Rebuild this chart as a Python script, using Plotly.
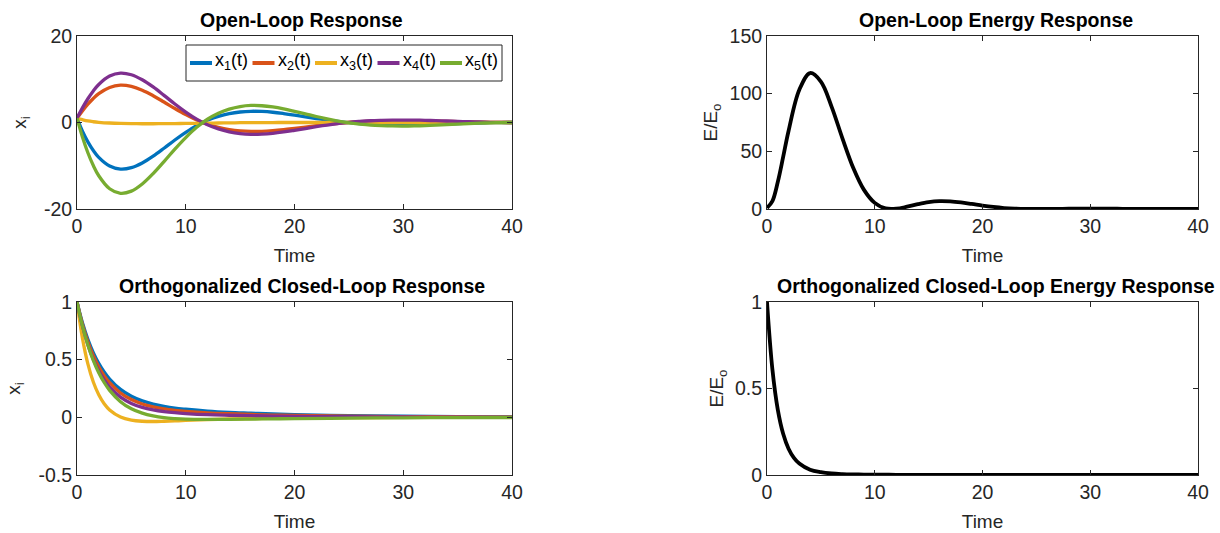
import plotly.graph_objects as go

# ---------------- data ----------------
t_ol = [0, 0.5, 1, 1.5, 2, 3, 4, 5, 6, 7, 8, 9, 10, 11, 12, 13, 14, 15, 16, 17, 18, 19, 20,
        21, 22, 23, 24, 25, 26, 27, 28, 29, 30, 31, 32, 33, 34, 35, 36, 37, 38, 39, 40]

ol_x1 = [1, -2.01, -4.48, -6.48, -8.06, -10.07, -10.78, -10.45, -9.36, -7.79, -5.95, -4.05, -2.29,
         -0.73, 0.50, 1.40, 2.04, 2.43, 2.59, 2.55, 2.37, 2.07, 1.71,
         1.32, 0.92, 0.55, 0.23, -0.04, -0.24, -0.39, -0.48, -0.53, -0.54,
         -0.52, -0.48, -0.41, -0.33, -0.26, -0.17, -0.11, -0.04, -0.01, 0]
ol_x2 = [1, 2.69, 4.23, 5.56, 6.67, 8.11, 8.62, 8.33, 7.46, 6.20, 4.74, 3.23, 1.82,
         0.58, -0.40, -1.12, -1.63, -1.94, -2.06, -2.03, -1.88, -1.65, -1.36,
         -1.05, -0.73, -0.44, -0.18, 0.03, 0.19, 0.31, 0.38, 0.42, 0.43,
         0.41, 0.38, 0.33, 0.27, 0.21, 0.14, 0.09, 0.03, 0.01, 0]
ol_x3 = [1, 0.65, 0.35, 0.17, 0.05, -0.12, -0.22, -0.27, -0.29, -0.29, -0.27, -0.25, -0.22,
         -0.18, -0.14, -0.11, -0.08, -0.05, -0.03, -0.02, -0.01, 0, 0,
         0, 0, 0, 0, 0, 0, 0, 0, 0, 0,
         0, 0, 0, 0, 0, 0, 0, 0, 0, 0]
ol_x4 = [1, 3.37, 5.49, 7.30, 8.79, 10.73, 11.42, 11.04, 9.88, 8.22, 6.28, 4.28, 2.42,
         0.78, -0.52, -1.48, -2.15, -2.57, -2.74, -2.69, -2.50, -2.19, -1.80,
         -1.39, -0.97, -0.58, -0.24, 0.05, 0.25, 0.41, 0.50, 0.56, 0.57,
         0.55, 0.50, 0.43, 0.35, 0.27, 0.18, 0.11, 0.05, 0.01, 0]
ol_x5 = [1, -3.36, -6.99, -9.96, -12.31, -15.32, -16.38, -15.87, -14.22, -11.82, -9.04, -6.15, -3.48,
         -1.12, 0.75, 2.13, 3.10, 3.69, 3.94, 3.87, 3.59, 3.15, 2.59,
         2.00, 1.39, 0.84, 0.34, -0.07, -0.36, -0.59, -0.72, -0.80, -0.82,
         -0.79, -0.72, -0.62, -0.51, -0.39, -0.26, -0.16, -0.07, -0.02, 0]
ol_energy = [1, 6.87, 23.4, 45.1, 67.65, 103.4, 117.9, 110.5, 88.6, 61.3, 35.8, 16.6, 5.31,
             0.55, 0.25, 1.99, 4.21, 5.98, 6.80, 6.57, 5.66, 4.34, 2.94,
             1.75, 0.85, 0.31, 0.05, 0.01, 0.06, 0.15, 0.23, 0.28, 0.29,
             0.27, 0.23, 0.17, 0.11, 0.07, 0.03, 0.01, 0, 0, 0]

t_cl = [0, 0.5, 1, 1.5, 2, 2.5, 3, 4, 5, 6, 7, 8, 9, 10, 12, 14, 16, 18, 20, 25, 30, 35, 40]
cl_x1 = [1, 0.82, 0.677, 0.561, 0.468, 0.393, 0.332, 0.242, 0.183, 0.143, 0.115, 0.095,
         0.080, 0.070, 0.054, 0.043, 0.036, 0.029, 0.024, 0.015, 0.010, 0.006, 0.004]
cl_x2 = [1, 0.807, 0.655, 0.534, 0.438, 0.361, 0.300, 0.211, 0.154, 0.116, 0.091, 0.073,
         0.061, 0.052, 0.039, 0.031, 0.025, 0.020, 0.016, 0.010, 0.006, 0.004, 0.002]
cl_x3 = [1, 0.687, 0.463, 0.306, 0.196, 0.118, 0.064, 0.003, -0.024, -0.034, -0.036, -0.034,
         -0.031, -0.027, -0.020, -0.0146, -0.0104, -0.0075, -0.0054, -0.0023, -0.001, -0.0004, -0.0002]
cl_x4 = [1, 0.793, 0.630, 0.502, 0.403, 0.325, 0.262, 0.175, 0.121, 0.087, 0.065, 0.050,
         0.040, 0.033, 0.023, 0.018, 0.014, 0.011, 0.009, 0.005, 0.003, 0.002, 0.001]
cl_x5 = [1, 0.793, 0.627, 0.494, 0.387, 0.302, 0.234, 0.136, 0.074, 0.036, 0.012, -0.003,
         -0.011, -0.016, -0.018, -0.017, -0.015, -0.013, -0.011, -0.007, -0.004, -0.002, -0.0015]
cl_energy = [1, 0.611, 0.378, 0.238, 0.152, 0.099, 0.066, 0.030, 0.016, 0.0088, 0.0054, 0.0036,
             0.0026, 0.0019, 0.0011, 0.0007, 0.0005, 0.0003, 0.0002, 0.0001, 0, 0, 0]

names = ["x<sub>1</sub>(t)", "x<sub>2</sub>(t)", "x<sub>3</sub>(t)", "x<sub>4</sub>(t)", "x<sub>5</sub>(t)"]
colors = ["#0072BD", "#D95319", "#EDB120", "#7E2F8E", "#77AC30"]

titles = ["Open-Loop Response", "Open-Loop Energy Response",
          "Orthogonalized Closed-Loop Response", "Orthogonalized Closed-Loop Energy Response"]
x_ticks = [0, 10, 20, 30, 40]
x_ticktext = ["0", "10", "20", "30", "40"]
y_ticks_ol = [-20, 0, 20]
y_ticktext_ol = ["-20", "0", "20"]
y_ticks_ole = [0, 50, 100, 150]
y_ticktext_ole = ["0", "50", "100", "150"]
y_ticks_cl = [-0.5, 0, 0.5, 1]
y_ticktext_cl = ["-0.5", "0", "0.5", "1"]
y_ticks_cle = [0, 0.5, 1]
y_ticktext_cle = ["0", "0.5", "1"]

# ---------------- figure ----------------
W, H = 1220, 533
FONT = "Liberation Sans, Arial, Helvetica, sans-serif"
AX = "#262626"

def px2x(p):
    return p / W

def px2y(p):
    return 1 - p / H

xdom_l = [px2x(77), px2x(512)]
xdom_r = [px2x(767), px2x(1198)]
ydom_t = [px2y(209), px2y(36)]
ydom_b = [px2y(475), px2y(302)]

fig = go.Figure()

series_ol = [ol_x1, ol_x2, ol_x3, ol_x4, ol_x5]
series_cl = [cl_x1, cl_x2, cl_x3, cl_x4, cl_x5]

for i in range(5):
    fig.add_trace(go.Scatter(x=t_ol, y=series_ol[i], mode="lines", name=names[i],
                             line=dict(color=colors[i], width=3.3, shape="spline"),
                             xaxis="x", yaxis="y", showlegend=False))
fig.add_trace(go.Scatter(x=t_ol, y=ol_energy, mode="lines", showlegend=False,
                         line=dict(color="black", width=3.8, shape="spline"),
                         xaxis="x2", yaxis="y2"))
for i in range(5):
    fig.add_trace(go.Scatter(x=t_cl, y=series_cl[i], mode="lines", showlegend=False,
                             name=names[i],
                             line=dict(color=colors[i], width=3.3, shape="spline"),
                             xaxis="x3", yaxis="y3"))
fig.add_trace(go.Scatter(x=t_cl, y=cl_energy, mode="lines", showlegend=False,
                         line=dict(color="black", width=3.8, shape="spline"),
                         xaxis="x4", yaxis="y4"))

def xaxis(dom, anchor):
    return dict(domain=dom, anchor=anchor, range=[0, 40], tickvals=x_ticks, ticktext=x_ticktext,
                showline=True, linecolor=AX, linewidth=1, mirror="ticks",
                ticks="inside", ticklen=5, tickcolor=AX, showgrid=False, zeroline=False,
                automargin=False,
                tickfont=dict(family=FONT, size=19.5, color=AX),
                title=dict(text="Time", font=dict(family=FONT, size=19, color=AX), standoff=12))

def yaxis(dom, anchor, rng, ticks, ticktext, label, standoff):
    return dict(domain=dom, anchor=anchor, range=rng, tickvals=ticks, ticktext=ticktext,
                showline=True, linecolor=AX, linewidth=1, mirror="ticks",
                ticks="inside", ticklen=5, tickcolor=AX, showgrid=False, zeroline=False,
                automargin=False,
                tickfont=dict(family=FONT, size=19.5, color=AX),
                title=dict(text=label, font=dict(family=FONT, size=19, color=AX), standoff=standoff))

fig.update_layout(
    width=W, height=H,
    margin=dict(l=0, r=0, t=0, b=0),
    paper_bgcolor="white", plot_bgcolor="white",
    font=dict(family=FONT, color=AX),
    showlegend=False,
    xaxis=xaxis(xdom_l, "y"),
    yaxis=yaxis(ydom_t, "x", [-20, 20], y_ticks_ol, y_ticktext_ol, "x<sub>i</sub>", 12),
    xaxis2=xaxis(xdom_r, "y2"),
    yaxis2=yaxis(ydom_t, "x2", [0, 150], y_ticks_ole, y_ticktext_ole, "E/E<sub>o</sub>", 6),
    xaxis3=xaxis(xdom_l, "y3"),
    yaxis3=yaxis(ydom_b, "x3", [-0.5, 1], y_ticks_cl, y_ticktext_cl, "x<sub>i</sub>", 12),
    xaxis4=xaxis(xdom_r, "y4"),
    yaxis4=yaxis(ydom_b, "x4", [0, 1], y_ticks_cle, y_ticktext_cle, "E/E<sub>o</sub>", 6),
)

# subplot titles
axes_refs = [("x", "y"), ("x2", "y2"), ("x3", "y3"), ("x4", "y4")]
title_shift = [7, 13, 7, 13]
for (xr, yr), ttl, sh in zip(axes_refs, titles, title_shift):
    fig.add_annotation(text="<b>" + ttl + "</b>", xref=xr + " domain", yref=yr + " domain",
                       x=0.5, y=1, xanchor="center", yanchor="bottom", yshift=3, xshift=sh,
                       showarrow=False, font=dict(family=FONT, size=19.5, color="black"))

# legend box (MATLAB-style, inside the open-loop axes)
LEG_L, LEG_R, LEG_T, LEG_B = 186, 502, 45, 81
LEG_MID = 63
fig.add_shape(type="rect", xref="paper", yref="paper",
              x0=px2x(LEG_L), x1=px2x(LEG_R), y0=px2y(LEG_B), y1=px2y(LEG_T),
              line=dict(color=AX, width=1), fillcolor="white", layer="above")
for i in range(5):
    x_start = 190 + i * 62.5
    fig.add_shape(type="line", xref="paper", yref="paper",
                  x0=px2x(x_start), x1=px2x(x_start + 22), y0=px2y(LEG_MID), y1=px2y(LEG_MID),
                  line=dict(color=colors[i], width=4), layer="above")
    fig.add_annotation(text=names[i], xref="paper", yref="paper",
                       x=px2x(x_start + 23), y=px2y(LEG_MID - 1), xanchor="left", yanchor="middle",
                       showarrow=False, font=dict(family=FONT, size=18, color="black"))

fig.write_html("out.html", config={"displayModeBar": False},
               post_script="document.body.style.margin='0px';document.body.style.padding='0px';")
